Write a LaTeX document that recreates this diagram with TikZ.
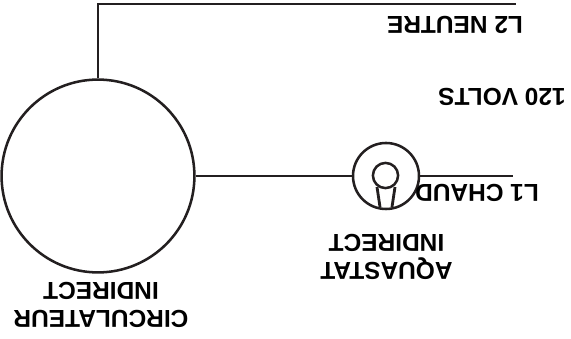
\documentclass[tikz,border=0pt]{standalone}
\usepackage{fontspec}
\setmainfont{Liberation Sans}
\definecolor{ink}{HTML}{231F20}
\tikzset{
  wire/.style={line width=2pt, ink},
  lbl/.style={rotate=180, font=\fontsize{17.4}{20}\selectfont\bfseries, align=center, inner sep=0pt, text=black},
  ring/.style={circle, draw, line width=1.8pt, ink, inner sep=0pt}
}
\begin{document}
\begin{tikzpicture}[x=0.025cm, y=-0.025cm]
  \useasboundingbox (0,0) rectangle (571,339);

  \node[ring, minimum size=4.82cm] (pump) at (98,176) {};
  \node[ring, minimum size=1.65cm] (aqua) at (386,176) {};
  \node[ring, minimum size=0.63cm] (bulb) at (385.5,175.5) {};
  \coordinate (corner) at (98,4);
  \coordinate (neutral) at (516,4);
  \coordinate (hot) at (513,176);
  \coordinate (stemA) at (377,187);
  \coordinate (stemB) at (380,207);
  \coordinate (stemC) at (392,207);
  \coordinate (stemD) at (395,187);

  \draw[wire] (pump.north) -- (corner) -- (neutral);
  \draw[wire] (pump.east) -- (aqua.west);
  \draw[wire] (aqua.east) -- (hot);
  \draw[wire] (stemA) -- (stemB);
  \draw[wire] (stemD) -- (stemC);

  \node[lbl] (neutre) at (455,24.5) {L2 NEUTRE};
  \node[lbl] (volts) at (502,97) {120 VOLTS};
  \node[lbl] (chaud) at (477,193) {L1 CHAUD};
  \node[lbl] (aquastat) at (386.5,256.5) {AQUASTAT\\INDIRECT};
  \node[lbl] (circ) at (101,305) {CIRCULATEUR\\INDIRECT};
\end{tikzpicture}
\end{document}
